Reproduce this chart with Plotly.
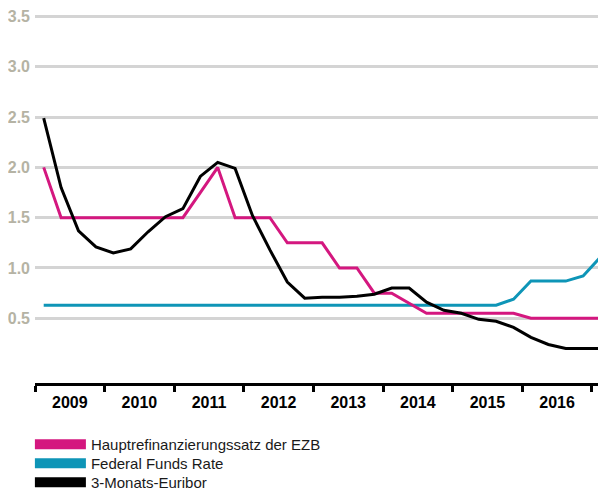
import plotly.graph_objects as go

# Quartale 2009Q1 .. 2017Q1
quarters = [f"{y}Q{q}" for y in range(2009, 2017) for q in range(1, 5)] + ["2017Q1"]

ezb = [2.0, 1.5, 1.5, 1.5, 1.5, 1.5, 1.5, 1.5,
       1.5, 1.75, 2.0, 1.5, 1.5, 1.5, 1.25, 1.25,
       1.25, 1.0, 1.0, 0.75, 0.75, 0.65, 0.55, 0.55,
       0.55, 0.55, 0.55, 0.55, 0.5, 0.5, 0.5, 0.5, 0.5]
fed = [0.63] * 27 + [0.69, 0.87, 0.87, 0.87, 0.92, 1.11]
euribor = [2.49, 1.80, 1.37, 1.21, 1.15, 1.19, 1.36, 1.51,
           1.59, 1.91, 2.05, 1.99, 1.52, 1.18, 0.86, 0.70,
           0.71, 0.71, 0.72, 0.74, 0.80, 0.80, 0.66, 0.58,
           0.55, 0.49, 0.47, 0.41, 0.31, 0.24, 0.20, 0.20, 0.20]

years = list(range(2009, 2017))
y_ticks = [0.5, 1.0, 1.5, 2.0, 2.5, 3.0, 3.5]

names = ["Hauptrefinanzierungssatz der EZB", "Federal Funds Rate", "3-Monats-Euribor"]
colors = ["#d4177f", "#0e95b7", "#000000"]
legend_ids = ["legend", "legend2", "legend3"]
legend_y = [-0.164, -0.2147, -0.2653]


def q_pos(label):
    # Mitte des Quartals auf der Jahresachse
    y, q = label.split("Q")
    return int(y) + (int(q) - 0.5) / 4


x = [q_pos(q) for q in quarters]
x_end = 2017.146

fig = go.Figure()

# Linien (ohne Legende), Reihenfolge: Fed, EZB, Euribor oben
for series, i in [(fed, 1), (ezb, 0), (euribor, 2)]:
    fig.add_trace(go.Scatter(
        x=x, y=series, mode="lines", name=names[i],
        line=dict(color=colors[i], width=3),
        showlegend=False, hoverinfo="x+y",
    ))

# Legenden-Einträge mit dicken Balken, je eine eigene Legende
for i in range(3):
    fig.add_trace(go.Scatter(
        x=[None], y=[None], mode="lines", name=names[i],
        line=dict(color=colors[i], width=11),
        showlegend=True, legend=legend_ids[i],
    ))

legend_style = dict(
    x=-0.009, xanchor="left", yanchor="middle",
    font=dict(size=15, color="#1a1a1a"),
    itemwidth=51, bgcolor="rgba(0,0,0,0)",
)

# die Seite hat 8px Rand im Body -> Figur etwas kleiner
fig.update_layout(
    width=598,
    height=484,
    margin=dict(l=27, r=4, t=0, b=109, autoexpand=False),
    paper_bgcolor="white",
    plot_bgcolor="white",
    font=dict(family="Arial, Liberation Sans, sans-serif", color="#1a1a1a"),
    showlegend=True,
    legend=dict(y=legend_y[0], **legend_style),
    legend2=dict(y=legend_y[1], **legend_style),
    legend3=dict(y=legend_y[2], **legend_style),
    xaxis=dict(
        range=[2009, x_end],
        tickmode="array",
        tickvals=[y + 0.5 for y in years],
        ticktext=[str(y) for y in years],
        ticks="",
        tickfont=dict(size=16, color="#000000", weight="bold"),
        ticklabelstandoff=3,
        showgrid=False,
        zeroline=False,
        showline=True,
        linecolor="#000000",
        linewidth=3,
        automargin=False,
        minor=dict(
            tickmode="array",
            tickvals=years + [2017, x_end - 0.01],
            ticks="outside",
            ticklen=6,
            tickwidth=3,
            tickcolor="#000000",
            showgrid=False,
        ),
    ),
    yaxis=dict(
        range=[-0.143, 3.584],
        tickmode="array",
        tickvals=y_ticks,
        ticktext=[f"{v:.1f}" for v in y_ticks],
        tickfont=dict(size=16, color="#b5b3a4", weight="bold"),
        ticklabelstandoff=4,
        showgrid=True,
        gridcolor="#d4d4d4",
        gridwidth=3,
        zeroline=False,
        showline=False,
        ticks="",
        automargin=False,
    ),
)

fig.write_html("out.html")
